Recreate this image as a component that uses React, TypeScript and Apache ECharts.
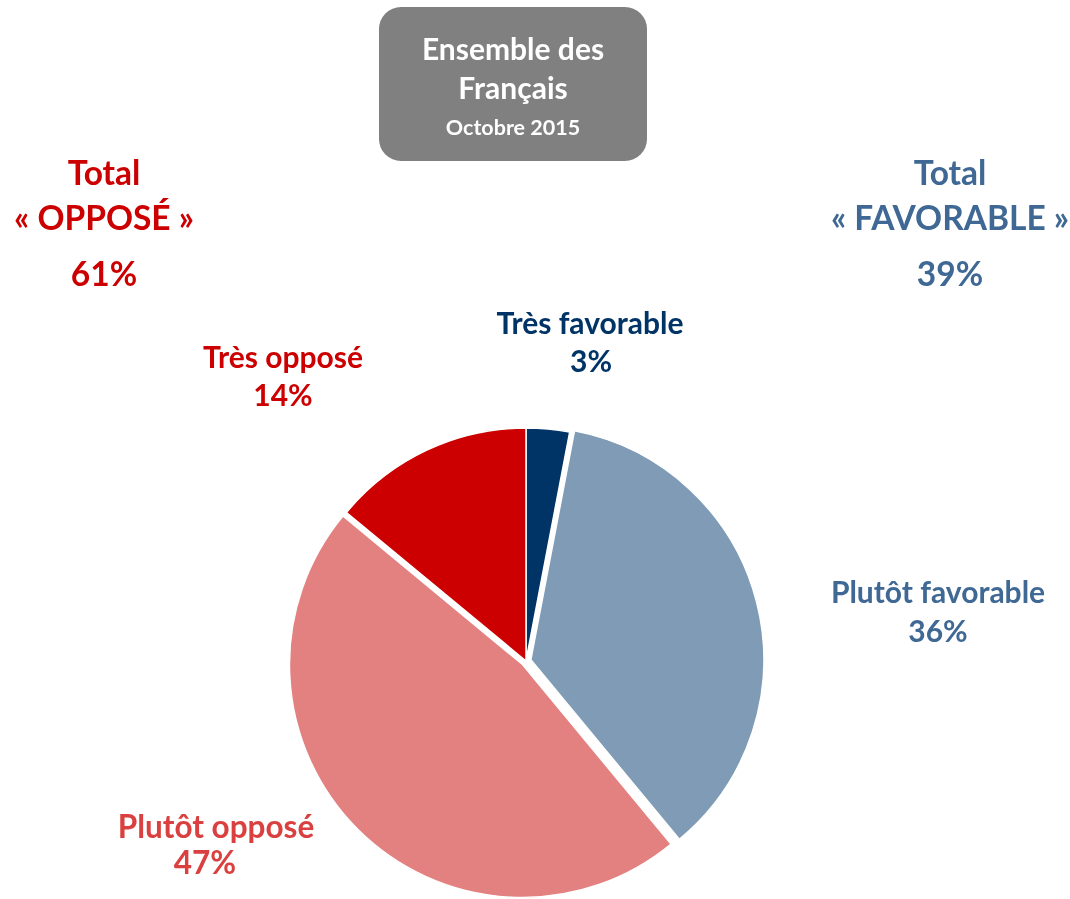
import React, { useEffect, useRef } from "react";
import * as echarts from "echarts";

const categories = ["Très favorable", "Plutôt favorable", "Plutôt opposé", "Très opposé"];
const values = [3, 36, 47, 14];
const sliceColors = ["#003366", "#7F9BB5", "#E38080", "#CC0000"];
const labelColors = ["#003366", "#3F6894", "#D9403F", "#CC0000"];
const exploded = [false, true, true, false];
// [nameX, nameY, valueX, valueY]
const labelPositions = [
  [590, 322, 591, 360],
  [938, 591, 938, 630],
  [216, 826, 205, 862],
  [283, 356, 283, 394],
];
const labelSizes = [30, 30, 31.5, 30];

const title = ["Ensemble des", "Français", "Octobre 2015"];
const FONT = "Lato, 'Liberation Sans', sans-serif";

export default function App() {
  const ref = useRef<HTMLDivElement>(null);
  useEffect(() => {
    if (!ref.current) return;
    const chart = echarts.init(ref.current, null, { renderer: "svg" });
    const favorable = values[0] + values[1];
    const oppose = values[2] + values[3];
    const txt = (x: number, y: number, text: string, fill: string, size: number) => ({
      type: "text",
      x,
      y,
      style: { text, fill, font: `bold ${size}px ${FONT}`, align: "center", verticalAlign: "middle" },
    });
    const sliceLabels = categories.flatMap((name, i) => [
      txt(labelPositions[i][0], labelPositions[i][1], name, labelColors[i], labelSizes[i]),
      txt(labelPositions[i][2], labelPositions[i][3], `${values[i]}%`, labelColors[i], labelSizes[i]),
    ]);
    chart.setOption({
      animation: false,
      graphic: [
        {
          type: "rect",
          shape: { x: 379, y: 7, width: 268, height: 154, r: 22 },
          style: { fill: "#808080" },
        },
        txt(513, 48, title[0], "#fff", 30),
        txt(513, 87, title[1], "#fff", 30),
        txt(513, 127, title[2], "#fff", 21.5),
        txt(104, 172, "Total", "#CC0000", 33.5),
        txt(104, 217, "« OPPOSÉ »", "#CC0000", 33.5),
        txt(104, 273, `${oppose}%`, "#CC0000", 33.5),
        txt(950, 172, "Total", "#3F6894", 33.5),
        txt(950, 217, "« FAVORABLE »", "#3F6894", 33.5),
        txt(950, 273, `${favorable}%`, "#3F6894", 33.5),
        ...sliceLabels,
      ],
      series: [
        {
          type: "pie",
          center: [526, 661],
          radius: [0, 233],
          startAngle: 90,
          clockwise: true,
          selectedMode: "multiple",
          selectedOffset: 5,
          emphasis: { disabled: true },
          itemStyle: { borderColor: "#fff", borderWidth: 1.5 },
          labelLine: { show: false },
          label: { show: false },
          data: categories.map((name, i) => ({
            name,
            value: values[i],
            selected: exploded[i],
            itemStyle: { color: sliceColors[i] },
            select: { itemStyle: { color: sliceColors[i] } },
          })),
        },
      ],
    });
    return () => chart.dispose();
  }, []);
  return <div ref={ref} style={{ position: "fixed", left: 0, top: 0, width: 1070, height: 899 }} />;
}
